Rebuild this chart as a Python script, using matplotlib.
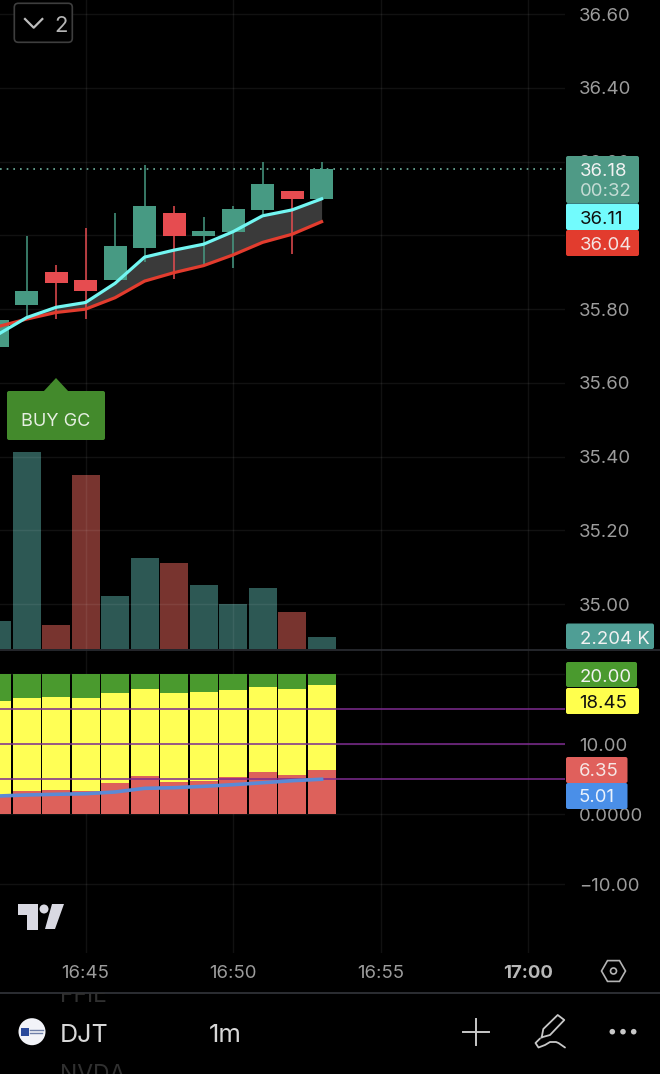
import matplotlib
matplotlib.use('Agg')
import matplotlib.pyplot as plt
from matplotlib.patches import FancyBboxPatch, Polygon, Circle, RegularPolygon, Rectangle
from matplotlib.ticker import MultipleLocator, FixedLocator, FixedFormatter

plt.rcParams['font.family'] = ['Inter', 'DejaVu Sans']

# minutes after 16:00
minutes = [42, 43, 44, 45, 46, 47, 48, 49, 50, 51, 52, 53]
opens = [35.698, 35.811, 35.900, 35.880, 35.880, 35.965, 36.061, 35.999, 36.010, 36.070, 36.120, 36.099]
closes = [35.771, 35.850, 35.870, 35.849, 35.970, 36.080, 35.999, 36.011, 36.071, 36.140, 36.099, 36.180]
highs = [35.771, 35.999, 35.921, 36.020, 36.061, 36.190, 36.080, 36.050, 36.080, 36.200, 36.120, 36.200]
lows = [35.698, 35.782, 35.773, 35.773, 35.880, 35.927, 35.882, 35.917, 35.912, 36.057, 35.950, 36.099]
fast_ma = [35.730, 35.777, 35.805, 35.818, 35.870, 35.941, 35.960, 35.976, 36.010, 36.053, 36.069, 36.099]
slow_ma = [35.752, 35.773, 35.791, 35.800, 35.831, 35.876, 35.899, 35.918, 35.947, 35.981, 36.003, 36.037]
volume = [5.3, 38.3, 4.5, 33.9, 10.3, 17.6, 16.6, 12.3, 8.7, 11.8, 7.2, 2.204]

green_bars = [20, 20, 20, 20, 20, 20, 20, 20, 20, 20, 20, 20]
yellow_bars = [16.19, 16.61, 16.76, 16.61, 17.37, 17.94, 17.37, 17.43, 17.76, 18.23, 17.94, 18.45]
red_bars = [2.76, 3.33, 3.51, 3.33, 4.47, 5.47, 4.61, 4.80, 5.33, 6.04, 5.57, 6.35]
blue_line = [2.61, 2.76, 2.86, 2.94, 3.19, 3.71, 3.80, 4.00, 4.23, 4.51, 4.80, 5.01]
purple_levels = [15, 10, 5]

time_ticks = [45, 50, 55, 60]
time_labels = ['16:45', '16:50', '16:55', '17:00']
lower_ticks = [-10, 0, 10, 20]
lower_labels = ['\u221210.00', '0.0000', '10.00', '20.00']
last_price = 36.18

W, H = 660, 1074
BG = '#000000'
TICK = '#9c9c9c'
UP = '#479a83'
DOWN = '#e64c50'
FS = 13.4

fig = plt.figure(figsize=(W / 100, H / 100), dpi=100, facecolor=BG)


def pane(top, bottom, right=565):
    ax = fig.add_axes([0, 1 - bottom / H, right / W, (bottom - top) / H])
    ax.set_facecolor(BG)
    for s in ax.spines.values():
        s.set_visible(False)
    return ax


xlim = (42.10, 61.25)

# volume sits behind the candles
ax_vol = pane(0, 648.5)
ax_vol.bar(minutes, volume, width=0.95,
           color=['#2d5854' if c >= o else '#78342f' for o, c in zip(opens, closes)])
ax_vol.set_xlim(*xlim)
ax_vol.set_ylim(0, 126.4)
ax_vol.axis('off')

ax = pane(0, 650)
ax.patch.set_visible(False)
ax.set_xlim(*xlim)
ax.set_ylim(34.876, 36.638)
ax.yaxis.tick_right()
ax.yaxis.set_major_locator(MultipleLocator(0.2))
ax.yaxis.set_major_formatter('{x:.2f}')
ax.tick_params(axis='y', length=0, pad=10.2, labelsize=FS, labelcolor=TICK)
ax.set_xticks(time_ticks)
ax.tick_params(axis='x', length=0, labelbottom=False)
ax.grid(True, color='white', alpha=0.07, lw=1)
ax.set_axisbelow(True)

for m, o, c, hi, lo in zip(minutes, opens, closes, highs, lows):
    col = UP if c >= o else DOWN
    ax.plot([m, m], [lo, hi], color=col, lw=1.1, zorder=3, solid_capstyle='butt')
    ax.bar(m, abs(c - o), bottom=min(o, c), width=0.78, color=col, zorder=4)

ax.fill_between(minutes, slow_ma, fast_ma, where=[f >= s for f, s in zip(fast_ma, slow_ma)],
                color='#3a3a3a', lw=0, zorder=2)
ax.plot(minutes, slow_ma, color='#e23c2e', lw=2.3, zorder=5)
ax.plot(minutes, fast_ma, color='#72f6f2', lw=2.3, zorder=6)
ax.axhline(last_price, color='#6fb3a0', lw=1.2, ls=(0, (1, 3)), zorder=2)

# lower indicator pane
low = pane(650, 953)
low.set_xlim(*xlim)
low.set_ylim(-19.81, 23.47)
low.bar(minutes, green_bars, width=0.95, color='#4a9a2e', zorder=2)
low.bar(minutes, yellow_bars, width=0.95, color='#ffff55', zorder=3)
low.bar(minutes, red_bars, width=0.95, color='#dd615b', zorder=4)
for lev in purple_levels:
    low.axhline(lev, color='#7d2b90', lw=1.3, alpha=0.85, zorder=5)
low.plot(minutes, blue_line, color='#5b8ad6', lw=2.6, zorder=6)
low.yaxis.tick_right()
low.yaxis.set_major_locator(FixedLocator(lower_ticks))
low.yaxis.set_major_formatter(FixedFormatter(lower_labels))
low.tick_params(axis='y', length=0, pad=10.2, labelsize=FS, labelcolor=TICK)
low.set_xticks(time_ticks)
low.set_xticklabels(time_labels)
low.tick_params(axis='x', length=0, pad=8.5, labelsize=FS, labelcolor=TICK)
low.get_xticklabels()[-1].set_fontweight('bold')
low.get_xticklabels()[-1].set_color('#b8b8b8')
low.grid(True, color='white', alpha=0.07, lw=1)
low.set_axisbelow(True)

# screen chrome, in pixel coordinates
ui = fig.add_axes([0, 0, 1, 1])
ui.set_xlim(0, W)
ui.set_ylim(H, 0)
ui.axis('off')
ui.patch.set_visible(False)


def badge(x0, y0, x1, y1, color):
    ui.add_patch(FancyBboxPatch((x0 + 2, y0 + 2), x1 - x0 - 4, y1 - y0 - 4,
                                boxstyle='round,pad=2,rounding_size=2', fc=color, ec='none'))


def label(x, y, s, color, size=FS, **kw):
    return ui.text(x, y, s, color=color, fontsize=size, ha=kw.pop('ha', 'left'), va='center_baseline', **kw)


ui.plot([0, W], [650, 650], color='#2b2d33', lw=1.2)
ui.plot([0, W], [992.5, 992.5], color='#33353c', lw=1.2)

badge(566, 156, 639, 203, '#4f9a86')
label(579.5, 169, '36.18', '#f2f2f2')
label(579.5, 190, '00:32', '#c5dcd5')
badge(566, 203.5, 639, 230, '#72fbfd')
label(579.5, 217, '36.11', '#101010')
badge(566, 230, 639, 256, '#e23c2e')
label(579.5, 243, '36.04', '#f4e4e2')
badge(566, 623.5, 654, 649, '#4f9e95')
label(579.5, 637, '2.204 K', '#f2f2f2')
badge(566, 662, 637, 687, '#4a9a2e')
label(579.5, 675, '20.00', '#f2f2f2')
badge(566, 688, 639, 714, '#ffff4d')
label(579.5, 701, '18.45', '#101010')
badge(566, 757, 627.5, 783, '#e0605c')
label(579, 770, '6.35', '#f6e6e4')
badge(566, 783, 627.5, 809, '#4a8fe8')
label(579, 796, '5.01', '#eaf2fc')

# BUY GC flag
ui.add_patch(Polygon([(43, 392), (56, 378), (69, 392)], fc='#438a2c', ec='none'))
badge(7, 391, 105, 440, '#438a2c')
label(56, 419, 'BUY GC', '#e6efe2', size=13, ha='center')

# collapse button
ui.add_patch(FancyBboxPatch((18.3, 7.3), 50, 31, boxstyle='round,pad=4,rounding_size=4',
                            fc=BG, ec='#3e3e3e', lw=1.2))
ui.plot([25, 33.7, 42.3], [19, 27.7, 19], color='#bdbdbd', lw=1.6)
label(54, 24, '2', '#b5b5b5', size=16)

# TradingView mark
tv = '#d9d9e2'
ui.add_patch(Polygon([(18, 904), (38, 904), (38, 930), (27, 930), (27, 915), (18, 915)], fc=tv, ec='none'))
ui.add_patch(Circle((44, 909), 4.5, fc=tv, ec='none'))
ui.add_patch(Polygon([(52, 904), (64, 904), (55, 929), (45, 929)], fc=tv, ec='none'))

# settings hexagon
ui.add_patch(RegularPolygon((613.5, 971), 6, radius=12, orientation=0.5236, fc='none', ec='#b4b4b4', lw=1.2))
ui.add_patch(Circle((613.5, 971), 3, fc='none', ec='#b4b4b4', lw=1.2))

# bottom toolbar
clip = Rectangle((0, 993), W, 81, transform=ui.transData)
for s, y in [('FFIE', 1002.5), ('NVDA', 1081)]:
    t = ui.text(60, y, s, color='#303030', fontsize=16.5, va='baseline', clip_on=True)
    t.set_clip_path(clip)

ui.add_patch(Circle((32, 1031.7), 13.5, fc='#f2f3f8', ec='none'))
ui.add_patch(Rectangle((21, 1028), 8, 8, fc='#2b4a9b', ec='none'))
ui.plot([30, 43], [1030, 1030], color='#6f7fa8', lw=1)
ui.plot([30, 42], [1033, 1033], color='#6f7fa8', lw=1)
label(59.5, 1033, 'DJT', '#d8d8d8', size=18)
label(209, 1033, '1m', '#d8d8d8', size=18.5)

ui.plot([463, 489], [1032, 1032], color='#c8c8c8', lw=1.4)
ui.plot([476, 476], [1019, 1045], color='#c8c8c8', lw=1.4)

pen_x = [541.7, 543.3, 557.7, 564.3, 550, 541.7]
pen_y = [1037.3, 1029, 1015, 1020, 1035, 1037.3]
ui.plot(pen_x, pen_y, color='#c8c8c8', lw=1.3, solid_joinstyle='round')
sq_x = [540, 535.5, 538.5, 545, 550, 556, 558.5, 565]
sq_y = [1038.5, 1043, 1047.5, 1045, 1042, 1042, 1043, 1047.5]
ui.plot(sq_x, sq_y, color='#c8c8c8', lw=1.3, solid_capstyle='round')

for cx in [612.3, 623, 633.7]:
    ui.add_patch(Circle((cx, 1031.7), 2.8, fc='#c8c8c8', ec='none'))

fig.savefig('out.png', dpi=100, facecolor=BG)
